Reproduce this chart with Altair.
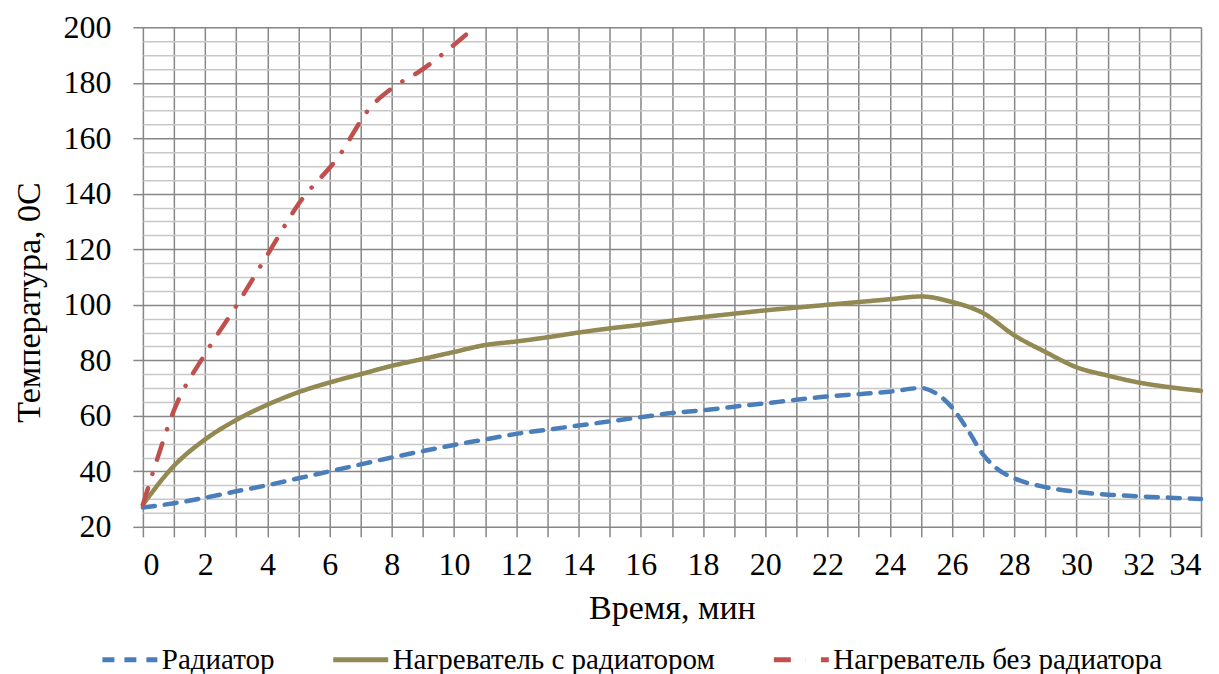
import altair as alt
import pandas as pd

# Радиатор
t_rad = [0, 1, 2, 3, 4, 5, 6, 7, 8, 9, 10, 11, 12, 13, 14, 15, 16, 17, 18, 19, 20, 21, 22, 23, 24, 25, 25.5, 26, 26.5, 27, 27.5, 28, 29, 30, 31, 32, 33, 34]
v_rad = [27, 28.5, 30.5, 32.8, 35, 37.5, 40, 42.5, 45, 47.3, 49.5, 51.5, 53.5, 55, 56.5, 58, 59.5, 61, 62, 63.3, 64.5, 65.8, 67, 67.8, 68.7, 70, 68, 63, 55, 46, 40.5, 37.5, 34.3, 32.6, 31.6, 31, 30.5, 30]

# Нагреватель с радиатором
t_with = [0, 1, 2, 3, 4, 5, 6, 7, 8, 9, 10, 11, 12, 13, 14, 15, 16, 17, 18, 19, 20, 21, 22, 23, 24, 25, 26, 27, 28, 29, 30, 31, 32, 33, 34]
v_with = [28, 42, 51.5, 58.5, 64, 68.5, 72, 75, 78, 80.5, 83, 85.5, 86.8, 88.3, 90, 91.5, 92.8, 94.3, 95.6, 96.8, 98, 99, 100, 101, 102, 103, 101, 97, 89, 83, 77.5, 74.5, 72, 70.3, 69]

# Нагреватель без радиатора
t_without = [0, 0.4, 1, 2, 3, 4, 5, 6.3, 7.3, 8, 8.9, 10.4]
v_without = [28, 42.3, 62, 82.3, 99.6, 118, 136.3, 153.6, 171, 178, 184.2, 197.5]

series = ["Радиатор", "Нагреватель с радиатором", "Нагреватель без радиатора"]
colors = ["#4a7ebb", "#938953", "#c0504d"]
dashes = [[12, 10], [1, 0], [17, 15, 0.1, 15]]

x_ticks = list(range(0, 35))
y_ticks = list(range(20, 201, 5))

rows = []
for name, ts, vs in zip(series, [t_rad, t_with, t_without], [v_rad, v_with, v_without]):
    for t, v in zip(ts, vs):
        rows.append({"t": t, "v": v, "s": name})
df = pd.DataFrame(rows)

font = "Liberation Serif, Times New Roman, DejaVu Serif, serif"

chart = alt.Chart(df).mark_line(strokeWidth=4.5, interpolate="monotone", strokeCap="round").encode(
    x=alt.X("t:Q", title="Время, мин",
            scale=alt.Scale(domain=[0, 34], nice=False, zero=False),
            axis=alt.Axis(values=x_ticks, labelExpr="datum.value % 2 == 0 ? datum.label : ''",
                          grid=True, gridColor="#878787", gridWidth=1.5,
                          tickColor="#878787", tickWidth=1.5, tickSize=10,
                          domain=False, labelFont=font, labelFontSize=32, labelColor="#000",
                          labelPadding=13, titleFont=font, titleFontSize=34,
                          titleFontWeight="normal", titleColor="#000", titlePadding=11)),
    y=alt.Y("v:Q", title="Температура, 0С",
            scale=alt.Scale(domain=[20, 200], nice=False, zero=False),
            axis=alt.Axis(values=y_ticks,
                          labelExpr="datum.value % 20 == 0 ? datum.label : ''",
                          grid=True,
                          gridColor={"condition": {"test": "datum.value % 20 == 0", "value": "#878787"}, "value": "#c8c8c8"},
                          gridWidth=1.5,
                          tickColor="#878787", tickWidth=1.5, tickSize=10,
                          tickOpacity={"condition": {"test": "datum.value % 20 == 0", "value": 1}, "value": 0},
                          domain=False, labelFont=font, labelFontSize=32, labelColor="#000",
                          labelPadding=22, titleFont=font, titleFontSize=34,
                          titleFontWeight="normal", titleColor="#000", titlePadding=16,
                          titleY=275)),
    color=alt.Color("s:N", sort=series, scale=alt.Scale(domain=series, range=colors),
                    legend=alt.Legend(title=None, orient="none", direction="horizontal",
                                      legendX=-43, legendY=603,
                                      symbolType="stroke", symbolStrokeWidth=5, symbolSize=3025,
                                      labelFont=font, labelFontSize=29, labelColor="#000",
                                      labelLimit=600, columnPadding=48, labelOffset=2)),
    strokeDash=alt.StrokeDash("s:N", sort=series, scale=alt.Scale(domain=series, range=dashes)),
    order="t:Q",
).properties(
    width=1059, height=500,
    autosize=alt.AutoSizeParams(type="none"),
    padding={"left": 135, "top": 19, "right": 10, "bottom": 150},
).configure_view(stroke=None).configure(background="white")

chart.save("out.html", embed_options={"renderer": "svg", "actions": False})
